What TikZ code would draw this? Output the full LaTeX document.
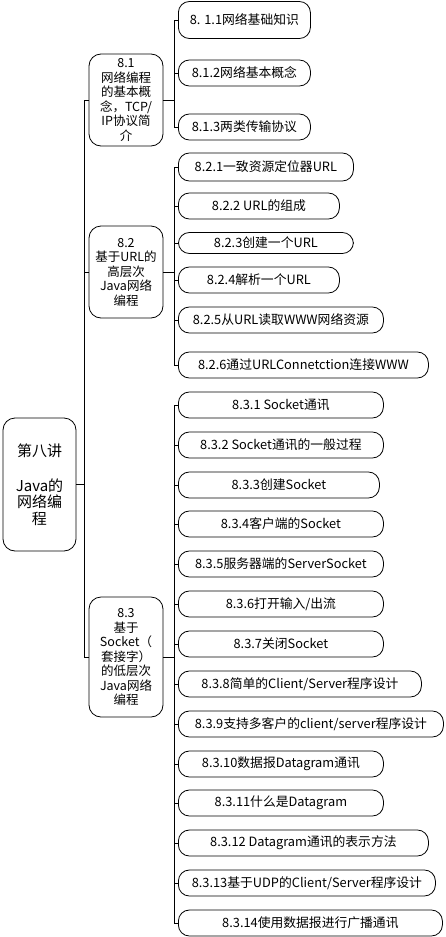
\documentclass[tikz,border=0pt]{standalone}
\usepackage{fontspec}
\setmainfont{Noto Sans CJK SC}
\usetikzlibrary{positioning}

\begin{document}
\begin{tikzpicture}[
  x=1pt, y=-1pt,
  line width=0.8pt,
  rootbox/.style={draw, rounded corners=12pt,
              minimum width=73pt, minimum height=133pt,
              font=\fontsize{15}{16.5}\selectfont, align=center, inner sep=1pt},
  sect/.style={draw, rounded corners=12pt, minimum width=74pt,
              font=\fontsize{12.5}{14.5}\selectfont, align=center, inner sep=1pt},
  leaf/.style={draw, rounded corners=11pt, anchor=west, minimum height=26pt,
              font=\fontsize{12.8}{14}\selectfont, inner sep=2pt}
]
  \useasboundingbox (0,0) rectangle (445,937);

  % Root
  \node[rootbox] (root) at (39.5,484.5) {第八讲\\[18pt]Java的\\网络编\\程};

  % Sections
  \node[sect, minimum height=92pt]  (s81) at (126,100) {8.1\\网络编程\\的基本概\\念，TCP/\\IP协议简\\介};
  \node[sect, minimum height=92pt]  (s82) at (126,272) {8.2\\基于URL的\\高层次\\Java网络\\编程};
  \node[sect, minimum height=120pt] (s83) at (126,657) {8.3\\基于\\Socket（\\套接字）\\的低层次\\Java网络\\编程};

  % Leaves of 8.1
  \node[leaf, minimum width=132pt, minimum height=37pt] (l811) at (178,20)  {8. 1.1网络基础知识};
  \node[leaf, minimum width=132pt] (l812) at (178,73)  {8.1.2网络基本概念};
  \node[leaf, minimum width=132pt] (l813) at (178,127) {8.1.3两类传输协议};

  % Leaves of 8.2
  \node[leaf, minimum width=175pt, minimum height=28pt] (l821) at (178,167) {8.2.1一致资源定位器URL};
  \node[leaf, minimum width=161pt] (l822) at (178,206) {8.2.2 URL的组成};
  \node[leaf, minimum width=175pt, minimum height=21pt] (l823) at (178,243) {8.2.3创建一个URL};
  \node[leaf, minimum width=161pt] (l824) at (178,280) {8.2.4解析一个URL};
  \node[leaf, minimum width=205pt] (l825) at (178,320) {8.2.5从URL读取WWW网络资源};
  \node[leaf, minimum width=250pt] (l826) at (178,365) {8.2.6通过URLConnetction连接WWW};

  % Leaves of 8.3
  \node[leaf, minimum width=205pt] (l831)  at (178,405) {8.3.1 Socket通讯};
  \node[leaf, minimum width=205pt] (l832)  at (178,445) {8.3.2 Socket通讯的一般过程};
  \node[leaf, minimum width=201pt] (l833)  at (178,485) {8.3.3创建Socket};
  \node[leaf, minimum width=205pt] (l834)  at (178,524) {8.3.4客户端的Socket};
  \node[leaf, minimum width=205pt] (l835)  at (178,564) {8.3.5服务器端的ServerSocket};
  \node[leaf, minimum width=205pt] (l836)  at (178,604) {8.3.6打开输入/出流};
  \node[leaf, minimum width=205pt] (l837)  at (178,644) {8.3.7关闭Socket};
  \node[leaf, minimum width=243pt] (l838)  at (178,684) {8.3.8简单的Client/Server程序设计};
  \node[leaf, minimum width=265pt] (l839)  at (178,724) {8.3.9支持多客户的client/server程序设计};
  \node[leaf, minimum width=205pt] (l8310) at (178,764) {8.3.10数据报Datagram通讯};
  \node[leaf, minimum width=205pt] (l8311) at (178,803) {8.3.11什么是Datagram};
  \node[leaf, minimum width=250pt] (l8312) at (178,843) {8.3.12 Datagram通讯的表示方法};
  \node[leaf, minimum width=257pt] (l8313) at (178,883) {8.3.13基于UDP的Client/Server程序设计};
  \node[leaf, minimum width=264pt] (l8314) at (178,923) {8.3.14使用数据报进行广播通讯};

  % Root to sections
  \draw (root.east) -- ++(8,0) |- (s81.west);
  \draw (root.east) -- ++(8,0) |- (s82.west);
  \draw (root.east) -- ++(8,0) |- (s83.west);

  % 8.1 branches
  \draw (s81.east) -- ++(11,0) |- (l811.west);
  \draw (s81.east) -- ++(11,0) |- (l812.west);
  \draw (s81.east) -- ++(11,0) |- (l813.west);

  % 8.2 branches
  \draw (s82.east) -- ++(11,0) |- (l821.west);
  \draw (s82.east) -- ++(11,0) |- (l822.west);
  \draw (s82.east) -- ++(11,0) |- (l823.west);
  \draw (s82.east) -- ++(11,0) |- (l824.west);
  \draw (s82.east) -- ++(11,0) |- (l825.west);
  \draw (s82.east) -- ++(11,0) |- (l826.west);

  % 8.3 branches
  \draw (s83.east) -- ++(11,0) |- (l831.west);
  \draw (s83.east) -- ++(11,0) |- (l832.west);
  \draw (s83.east) -- ++(11,0) |- (l833.west);
  \draw (s83.east) -- ++(11,0) |- (l834.west);
  \draw (s83.east) -- ++(11,0) |- (l835.west);
  \draw (s83.east) -- ++(11,0) |- (l836.west);
  \draw (s83.east) -- ++(11,0) |- (l837.west);
  \draw (s83.east) -- ++(11,0) |- (l838.west);
  \draw (s83.east) -- ++(11,0) |- (l839.west);
  \draw (s83.east) -- ++(11,0) |- (l8310.west);
  \draw (s83.east) -- ++(11,0) |- (l8311.west);
  \draw (s83.east) -- ++(11,0) |- (l8312.west);
  \draw (s83.east) -- ++(11,0) |- (l8313.west);
  \draw (s83.east) -- ++(11,0) |- (l8314.west);
\end{tikzpicture}
\end{document}
